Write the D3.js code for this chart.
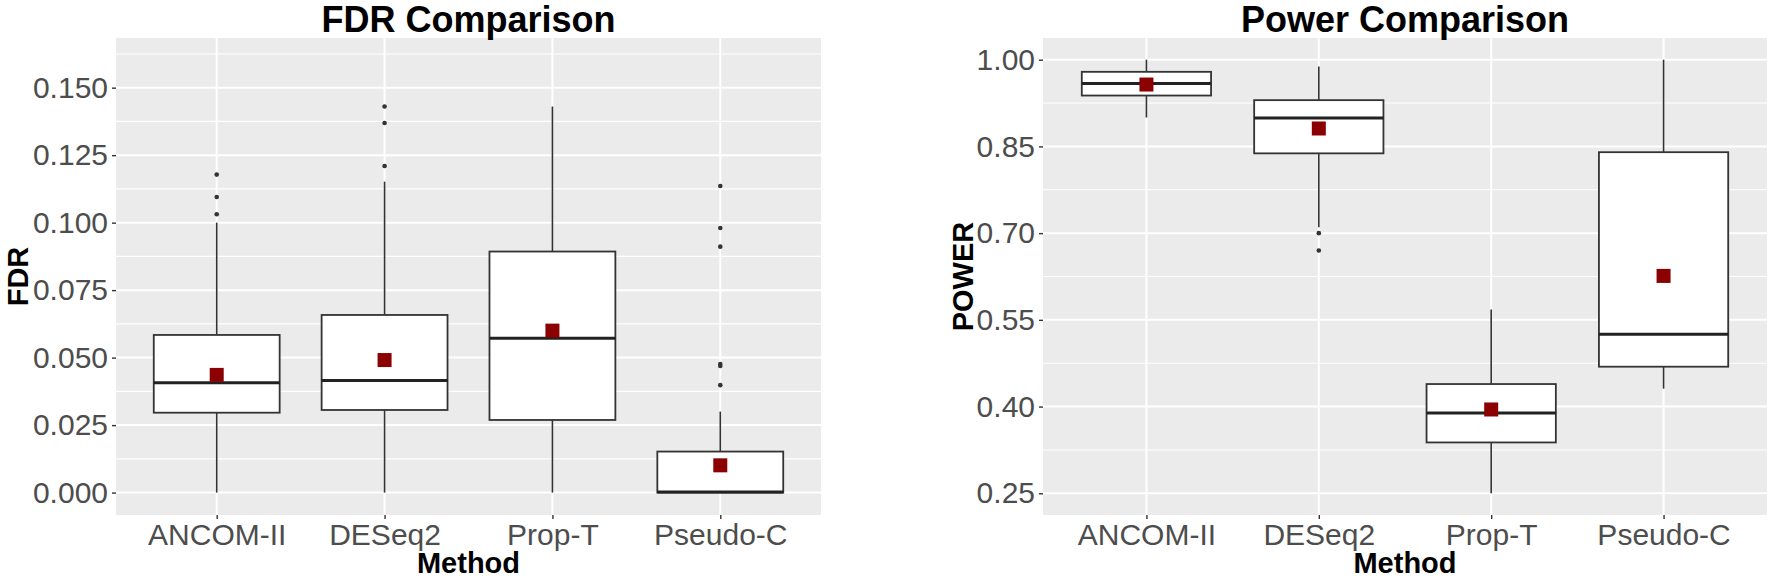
<!DOCTYPE html>
<html>
<head>
<meta charset="utf-8">
<script src="https://cdn.jsdelivr.net/npm/d3@7"></script>
<style>
  body { margin: 0; background: #fff; }
  svg text { font-family: "Liberation Sans", Arial, sans-serif; }
</style>
</head>
<body>
<div id="chart"></div>
<script>
const methods = ["ANCOM-II", "DESeq2", "Prop-T", "Pseudo-C"];

// FDR panel
const fdrLower   = [0, 0, 0, 0];
const fdrQ1      = [0.0296, 0.0306, 0.0269, 0];
const fdrMedian  = [0.0407, 0.0415, 0.0572, 0.0002];
const fdrQ3      = [0.0584, 0.0658, 0.0893, 0.0152];
const fdrUpper   = [0.1000, 0.1152, 0.1430, 0.0300];
const fdrMean    = [0.0436, 0.0491, 0.0600, 0.0101];
const fdrOutliers = [
  [0.1178, 0.1095, 0.1031],
  [0.1430, 0.1369, 0.1210],
  [],
  [0.1136, 0.0980, 0.0911, 0.0476, 0.0469, 0.0398]
];
const fdrTicks = [0, 0.025, 0.05, 0.075, 0.1, 0.125, 0.15];
const fdrDomain = [-0.0083, 0.1684];

// Power panel
const powLower   = [0.90, 0.71, 0.25, 0.431];
const powQ1      = [0.938, 0.838, 0.338, 0.469];
const powMedian  = [0.959, 0.899, 0.389, 0.525];
const powQ3      = [0.979, 0.930, 0.439, 0.840];
const powUpper   = [1.00, 0.988, 0.568, 1.00];
const powMean    = [0.957, 0.881, 0.395, 0.626];
const powOutliers = [[], [0.700, 0.670], [], []];
const powTicks = [0.25, 0.40, 0.55, 0.70, 0.85, 1.00];
const powDomain = [0.2125, 1.0375];

const W = 1772, H = 579;
const svg = d3.select("#chart").append("svg")
    .attr("width", W)
    .attr("height", H);

function drawPanel(p) {
    const g = svg.append("g");
    const x = d3.scalePoint().domain(methods).range([p.left, p.right]).padding(0.6);
    const y = d3.scaleLinear().domain(p.domain).range([p.bottom, p.top]);
    const boxW = x.step() * 0.75;

    // panel background
    g.append("rect")
        .attr("x", p.left).attr("y", p.top)
        .attr("width", p.right - p.left).attr("height", p.bottom - p.top)
        .attr("fill", "#EBEBEB");

    // minor gridlines halfway between ticks
    const step = p.ticks[1] - p.ticks[0];
    const minor = [];
    for (let i = -1; i < p.ticks.length; i++) {
        const v = p.ticks[0] + step * (i + 0.5);
        if (v > p.domain[0] && v < p.domain[1]) minor.push(v);
    }
    g.selectAll("line.minor").data(minor).join("line")
        .attr("class", "minor")
        .attr("x1", p.left).attr("x2", p.right)
        .attr("y1", d => y(d)).attr("y2", d => y(d))
        .attr("stroke", "#fff").attr("stroke-width", 1.1);
    g.selectAll("line.majorY").data(p.ticks).join("line")
        .attr("class", "majorY")
        .attr("x1", p.left).attr("x2", p.right)
        .attr("y1", d => y(d)).attr("y2", d => y(d))
        .attr("stroke", "#fff").attr("stroke-width", 2);
    g.selectAll("line.majorX").data(methods).join("line")
        .attr("class", "majorX")
        .attr("x1", d => x(d)).attr("x2", d => x(d))
        .attr("y1", p.top).attr("y2", p.bottom)
        .attr("stroke", "#fff").attr("stroke-width", 2);

    const boxes = g.selectAll("g.box").data(methods).join("g").attr("class", "box");

    // whiskers
    boxes.append("line")
        .attr("x1", d => x(d)).attr("x2", d => x(d))
        .attr("y1", (d, i) => y(p.upper[i])).attr("y2", (d, i) => y(p.q3[i]))
        .attr("stroke", "#333").attr("stroke-width", 1.6);
    boxes.append("line")
        .attr("x1", d => x(d)).attr("x2", d => x(d))
        .attr("y1", (d, i) => y(p.q1[i])).attr("y2", (d, i) => y(p.lower[i]))
        .attr("stroke", "#333").attr("stroke-width", 1.6);

    // box
    boxes.append("rect")
        .attr("x", d => x(d) - boxW / 2)
        .attr("width", boxW)
        .attr("y", (d, i) => y(p.q3[i]))
        .attr("height", (d, i) => y(p.q1[i]) - y(p.q3[i]))
        .attr("fill", "#fff").attr("stroke", "#333").attr("stroke-width", 1.8);

    // median
    boxes.append("line")
        .attr("x1", d => x(d) - boxW / 2).attr("x2", d => x(d) + boxW / 2)
        .attr("y1", (d, i) => y(p.median[i])).attr("y2", (d, i) => y(p.median[i]))
        .attr("stroke", "#222").attr("stroke-width", 3);

    // outliers
    boxes.each(function(d, i) {
        d3.select(this).selectAll("circle").data(p.outliers[i]).join("circle")
            .attr("cx", x(d)).attr("cy", v => y(v))
            .attr("r", 2.3).attr("fill", "#333");
    });

    // mean squares
    const sq = 14;
    boxes.append("rect")
        .attr("x", d => x(d) - sq / 2)
        .attr("y", (d, i) => y(p.mean[i]) - sq / 2)
        .attr("width", sq).attr("height", sq)
        .attr("fill", "#8B0000");

    // axes
    const yAxis = g.append("g")
        .attr("transform", `translate(${p.left},0)`)
        .call(d3.axisLeft(y).tickValues(p.ticks).tickFormat(p.fmt).tickSize(4).tickPadding(4));
    const xAxis = g.append("g")
        .attr("transform", `translate(0,${p.bottom})`)
        .call(d3.axisBottom(x).tickSize(4).tickPadding(5));
    [yAxis, xAxis].forEach(a => {
        a.select(".domain").remove();
        a.selectAll(".tick line").attr("stroke", "#333").attr("stroke-width", 1.4);
        a.selectAll(".tick text").attr("fill", "#4D4D4D")
            .style("font-size", "30px");
    });

    // titles
    const cx = (p.left + p.right) / 2;
    g.append("text")
        .attr("x", cx).attr("y", 32)
        .attr("text-anchor", "middle")
        .style("font-size", "36px").style("font-weight", "bold")
        .text(p.title);
    g.append("text")
        .attr("x", cx).attr("y", 573)
        .attr("text-anchor", "middle")
        .style("font-size", "29px").style("font-weight", "bold")
        .text("Method");
    g.append("text")
        .attr("transform", `translate(${p.ylabX},${(p.top + p.bottom) / 2}) rotate(-90)`)
        .attr("text-anchor", "middle")
        .style("font-size", "29px").style("font-weight", "bold")
        .text(p.ylab);
}

drawPanel({
    left: 116, right: 821, top: 38, bottom: 515,
    domain: fdrDomain, ticks: fdrTicks, fmt: d3.format(".3f"),
    lower: fdrLower, q1: fdrQ1, median: fdrMedian, q3: fdrQ3, upper: fdrUpper,
    mean: fdrMean, outliers: fdrOutliers,
    title: "FDR Comparison", ylab: "FDR", ylabX: 28
});

drawPanel({
    left: 1043, right: 1767, top: 38, bottom: 515,
    domain: powDomain, ticks: powTicks, fmt: d3.format(".2f"),
    lower: powLower, q1: powQ1, median: powMedian, q3: powQ3, upper: powUpper,
    mean: powMean, outliers: powOutliers,
    title: "Power Comparison", ylab: "POWER", ylabX: 973
});
</script>
</body>
</html>
